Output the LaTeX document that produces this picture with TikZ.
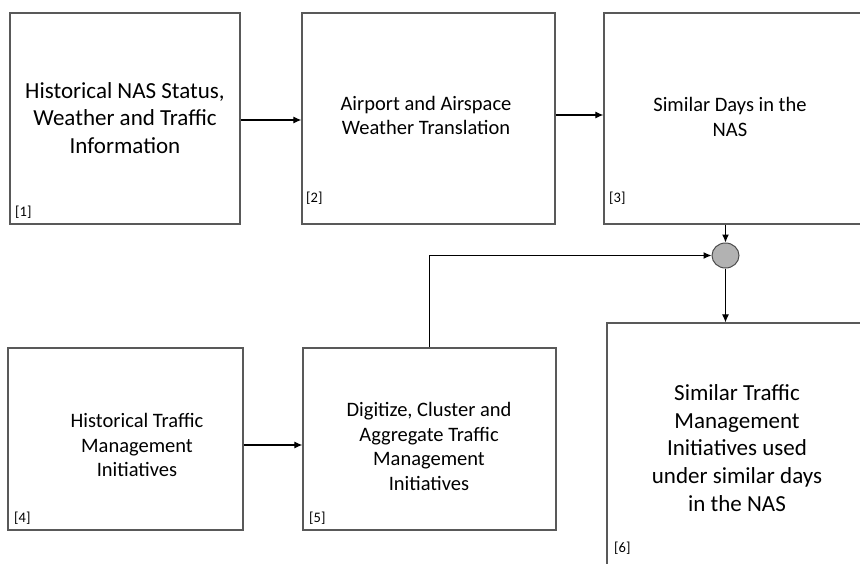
\documentclass[tikz,border=0pt]{standalone}
\usepackage{fontspec}
\setmainfont{Carlito}
\usetikzlibrary{arrows.meta,shapes.geometric}

\tikzset{
  box/.style={draw=black!65, line width=1.3pt, fill=white, inner sep=0pt},
  bigtxt/.style={align=center, inner sep=0pt, font=\fontsize{23}{27.6}\selectfont},
  midtxt/.style={align=center, inner sep=0pt, font=\fontsize{20.5}{24.8}\selectfont},
  tag/.style={anchor=west, inner sep=0pt, font=\fontsize{14.5}{16}\selectfont},
  arr/.style={-{Latex[length=8pt,width=7pt]}, line width=1.1pt, black},
}

\begin{document}
\begin{tikzpicture}[x=1pt,y=-1pt]
\useasboundingbox (0,0) rectangle (860,563);

% upper row
\node[box, minimum width=230, minimum height=211] (b1) at (125,118.5) {};
\node[box, minimum width=253, minimum height=211] (b2) at (428.5,118.5) {};
\node[box, minimum width=276, minimum height=211] (b3) at (742,118.5) {};

\node[bigtxt] (t1) at (125,118) {Historical NAS Status,\\Weather and Traffic\\Information};
\node[midtxt] (t2) at (426,115.5) {Airport and Airspace\\Weather Translation};
\node[midtxt] (t3) at (730,117) {Similar Days in the\\NAS};

\node[tag] (n1) at (15,212) {[1]};
\node[tag] (n2) at (306,198) {[2]};
\node[tag] (n3) at (609,198) {[3]};

% lower row
\node[box, minimum width=235, minimum height=182] (b4) at (125.5,439) {};
\node[box, minimum width=253, minimum height=182] (b5) at (429.5,439) {};
\node[box, minimum width=273, minimum height=267] (b6) at (743.5,456.5) {};

\node[midtxt] (t4) at (137,445) {Historical Traffic\\Management\\Initiatives};
\node[midtxt] (t5) at (429,446.5) {Digitize, Cluster and\\Aggregate Traffic\\Management\\Initiatives};
\node[bigtxt] (t6) at (737,448) {Similar Traffic\\Management\\Initiatives used\\under similar days\\in the NAS};

\node[tag] (n4) at (14,518) {[4]};
\node[tag] (n5) at (309,518) {[5]};
\node[tag] (n6) at (614,548) {[6]};

% join
\node[ellipse, draw=black!70, line width=1pt, fill=black!30, minimum width=27, minimum height=25, inner sep=0pt] (join) at (725.5,255.5) {};

\draw[arr] ([yshift=-1.5]b1.east) -- ([yshift=-1.5]b1.east -| b2.west);
\draw[arr] ([yshift=3.5]b2.east) -- ([yshift=3.5]b2.east -| b3.west);
\draw[arr] ([yshift=-6]b4.east) -- ([yshift=-6]b4.east -| b5.west);
\draw[arr] (b3.south -| join) -- (join);
\draw[arr] (b5.north) |- (join.west);
\draw[arr] (join) -- (join |- b6.north);
\end{tikzpicture}
\end{document}
